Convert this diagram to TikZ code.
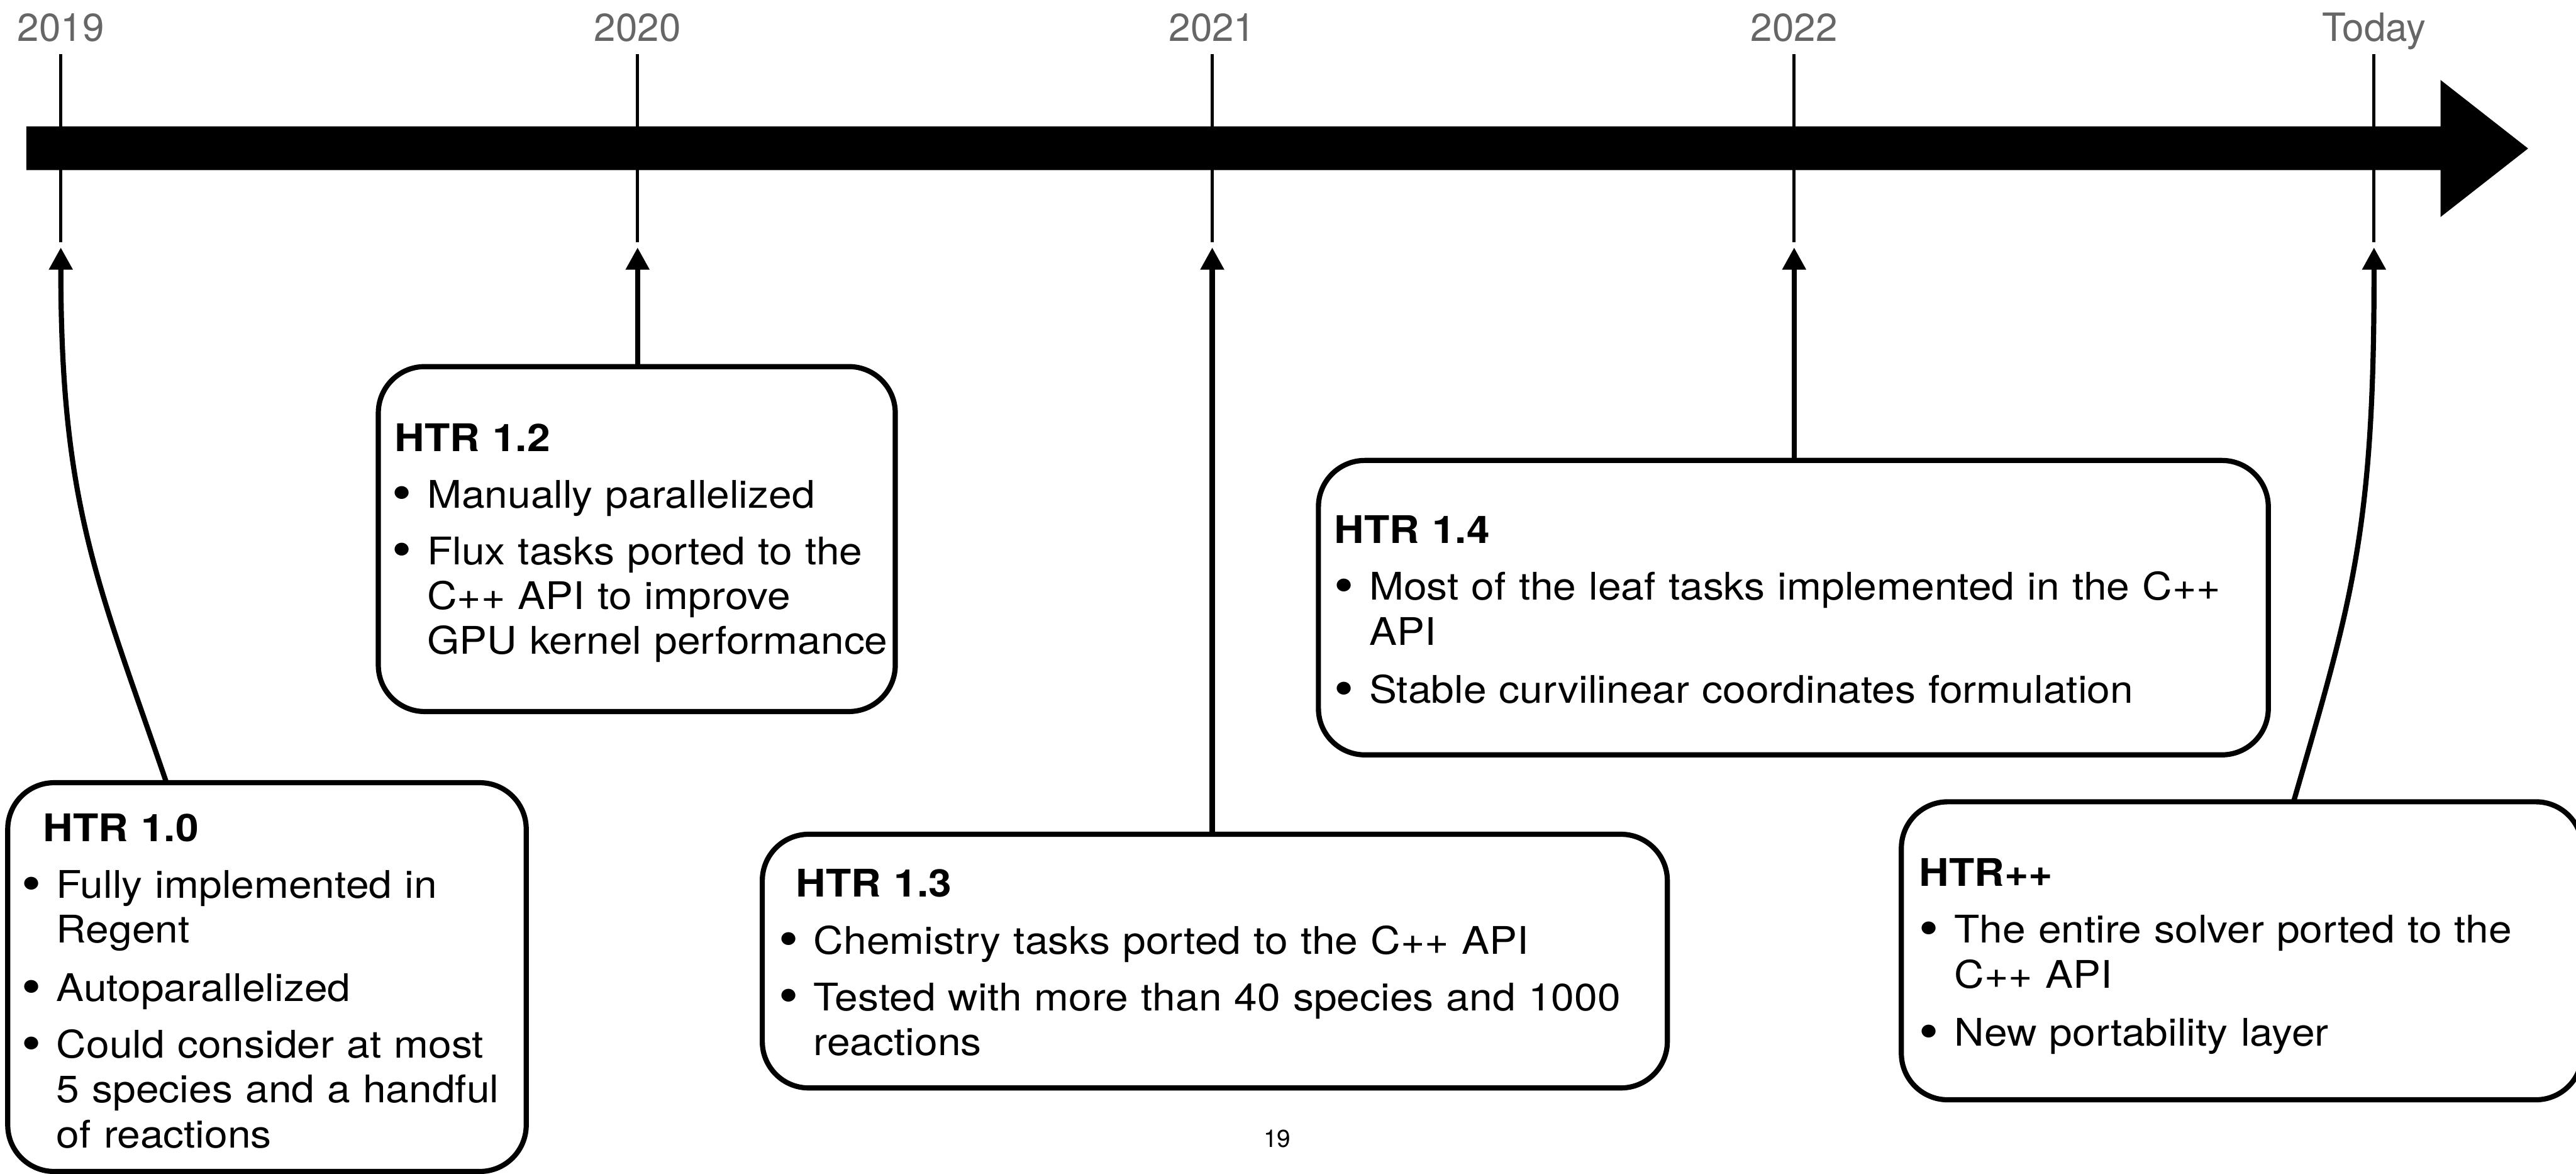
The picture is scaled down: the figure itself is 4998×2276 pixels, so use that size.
\documentclass[tikz,border=0pt]{standalone}
\usepackage{fontspec}
\setmainfont[FakeStretch=1.09]{TeX Gyre Heros}
\newfontfamily\yearfont{TeX Gyre Heros}
\usetikzlibrary{arrows.meta,positioning,calc}
\definecolor{YearGray}{HTML}{666666}
\newcommand{\itm}[1]{\par\vskip6.5pt\noindent\makebox[6.8mm][l]{\raisebox{-1.6pt}{\scalebox{1.35}{\textbullet}}}%
 \begin{tabular}[t]{@{}l@{}}#1\end{tabular}}
\tikzset{card/.style={draw,line width=1mm,rounded corners=9mm,inner sep=0pt,outer sep=0pt},
 note/.style={anchor=base west,inner sep=0pt,align=left,font=\fontsize{21}{24.75}\selectfont},
 yearlab/.style={anchor=base,text=YearGray,font=\yearfont\fontsize{21.5}{26}\selectfont},
 tick/.style={line width=0.6mm},
 link/.style={line width=1mm,-{Triangle[length=4.3mm,width=4.4mm]}}}

\begin{document}
\begin{tikzpicture}[x=0.1mm,y=-0.1mm]
\useasboundingbox (0,0) rectangle (4998,2276);
% time axis
\fill (51,245)--(4735,245)--(4735,155)--(4905,288)--(4735,421)--(4735,330)--(51,330)--cycle;
\foreach \x/\lab/\nm in {118/2019/c2019,1237/2020/c2020,2352/2021/c2021,3481/2022/c2022,4606/Today/cToday}
 {\node[yearlab] (y\nm) at (\x,80) {\lab};
  \draw[tick] (\x,105)--(\x,470);
  \coordinate (\nm) at (\x,480);}
% releases
\node[card,minimum width=100.6mm,minimum height=75.4mm] (b10) at (518,1895) {};
\node[card,minimum width=100.3mm,minimum height=66.9mm] (b12) at (1235.5,1045.5) {};
\node[card,minimum width=175.6mm,minimum height=49.2mm] (b13) at (2357,1864) {};
\node[card,minimum width=184.3mm,minimum height=57.1mm] (b14) at (3479.5,1178.5) {};
\node[card,minimum width=132.1mm,minimum height=57.8mm] (b15) at (4349.5,1844) {};
\node[note,text width=97mm] (t10) at ([shift={(2.6mm,-11.4mm)}]b10.north west)
 {\hspace*{4.2mm}\textbf{HTR 1.0}\itm{Fully implemented in\\ Regent}\itm{Autoparallelized}%
  \itm{Could consider at most\\ 5 species and a handful\\ of reactions}};
\node[note,text width=97mm] (t12) at ([shift={(2.6mm,-16.4mm)}]b12.north west)
 {\hspace*{0.5mm}\textbf{HTR 1.2}\itm{Manually parallelized}%
  \itm{Flux tasks ported to the\\ C++ API to improve\\ GPU kernel performance}};
\node[note,text width=170mm] (t13) at ([shift={(3.1mm,-12.2mm)}]b13.north west)
 {\hspace*{3.4mm}\textbf{HTR 1.3}\itm{Chemistry tasks ported to the C++ API}%
  \itm{Tested with more than 40 species and 1000\\ reactions}};
\node[note,text width=180mm] (t14) at ([shift={(3.0mm,-16.1mm)}]b14.north west)
 {\textbf{HTR 1.4}\itm{Most of the leaf tasks implemented in the C++\\ API}%
  \itm{Stable curvilinear coordinates formulation}};
\node[note,text width=125mm] (t15) at ([shift={(3.4mm,-16.4mm)}]b15.north west)
 {\textbf{HTR++}\itm{The entire solver ported to the\\ C++ API}\itm{New portability layer}};
% links to the axis
\draw[link] ([xshift=30.8mm]b10.north west) .. controls (191,1133) and (118,984) .. (c2019);
\draw[link] (b12.north -| c2020) -- (c2020);
\draw[link] (b13.north -| c2021) -- (c2021);
\draw[link] (b14.north -| c2022) -- (c2022);
\draw[link] ([xshift=76.1mm]b15.north west) .. controls (4562,1168) and (4607,1031) .. (cToday);
\node[anchor=base,font=\yearfont\fontsize{13.5}{16}\selectfont] (pg) at (2478,2225) {19};
\end{tikzpicture}
\end{document}
